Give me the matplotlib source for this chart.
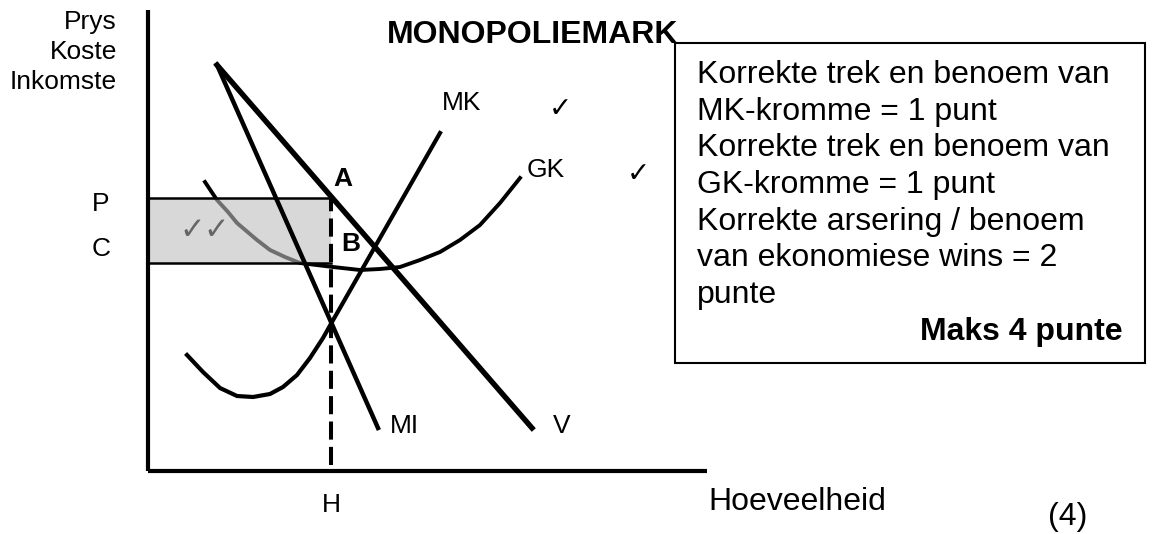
import matplotlib
matplotlib.use("Agg")
import matplotlib.pyplot as plt
from matplotlib.patches import Rectangle

plt.rcParams['font.family'] = ['Liberation Sans', 'DejaVu Sans']

# ---- data (economic units: quantity Q, price P) ----
V_q = [6.9, 38.4]
V_p = [40.6, 4.3]
MI_q = [6.9, 23.0]
MI_p = [40.6, 4.3]
MK_q = [3.9, 5.5, 7.2, 8.9, 10.5, 12.2, 13.5, 14.9, 16.2, 17.5, 18.4, 29.2]
MK_p = [11.6, 9.9, 8.3, 7.5, 7.4, 7.7, 8.4, 9.6, 11.3, 13.3, 14.9, 33.8]
GK_q = [5.7, 6.9, 8.0, 8.9, 10.9, 12.2, 13.7, 15.2, 18.5, 21.2, 23.2, 25.2,
        27.2, 29.2, 31.2, 33.2, 35.2, 37.2]
GK_p = [28.9, 27.1, 25.9, 24.8, 23.1, 22.1, 21.4, 20.8, 20.4, 20.1, 20.2, 20.4,
        21.1, 21.9, 23.1, 24.6, 26.8, 29.3]
H = 18.3
P_level = 27.3
C_level = 20.8
Q_axis_max = 55.9
P_axis_max = 46.1

box_lines = ["Korrekte trek en benoem van",
             "MK-kromme = 1 punt",
             "Korrekte trek en benoem van",
             "GK-kromme = 1 punt",
             "Korrekte arsering / benoem",
             "van ekonomiese wins = 2",
             "punte"]

W, Hpx = 1152, 534
fig = plt.figure(figsize=(W / 100, Hpx / 100), dpi=100)
ax = fig.add_axes([0, 0, 1, 1])
ax.set_xlim(-14.8, 100.4)
ax.set_ylim(-6.3, 47.1)
ax.axis('off')

def fx(px):
    return px / W

def fy(py):
    return 1 - py / Hpx

# axes
ax.plot([0, 0], [0, P_axis_max], color='black', lw=3.0, solid_capstyle='butt', zorder=3)
ax.plot([0, Q_axis_max], [0, 0], color='black', lw=3.0, solid_capstyle='butt', zorder=3)

# GK under the shaded rectangle
ax.plot(GK_q, GK_p, color='black', lw=2.8, zorder=1, solid_joinstyle='round')

# shaded profit rectangle
ax.add_patch(Rectangle((0, C_level), H, P_level - C_level, facecolor=(190/255,)*3,
                       alpha=0.59, edgecolor='none', zorder=2))
ax.plot([0, H], [P_level, P_level], color='black', lw=1.8, zorder=3)
ax.plot([0, H], [C_level, C_level], color='black', lw=1.8, zorder=3)
ax.plot([H, H], [0.6, P_level], color='black', lw=2.9, linestyle=(0, (4.5, 1.8)), zorder=3)

# grey check marks in the profit area
ax.text(4.4, 24.1, "\u2713", fontsize=22, color='#666666', ha='center', va='center',
        family=['DejaVu Sans'], zorder=3)
ax.text(6.8, 24.1, "\u2713", fontsize=22, color='#666666', ha='center', va='center',
        family=['DejaVu Sans'], zorder=3)

# curves
ax.plot(V_q, V_p, color='black', lw=3.9, zorder=3)
ax.plot(MI_q, MI_p, color='black', lw=3.2, zorder=3)
ax.plot(MK_q, MK_p, color='black', lw=3.0, zorder=3, solid_joinstyle='round')

# labels in chart
ax.text(-3.1, 44.9, "Prys", fontsize=19, ha='right', va='center')
ax.text(-3.1, 41.9, "Koste", fontsize=19, ha='right', va='center')
ax.text(-3.1, 38.9, "Inkomste", fontsize=19, ha='right', va='center')
ax.text(-4.7, 26.7, "P", fontsize=19, ha='center', va='center')
ax.text(-4.7, 22.2, "C", fontsize=19, ha='center', va='center')
ax.text(19.5, 29.2, "A", fontsize=19, fontweight='bold', ha='center', va='center')
ax.text(20.3, 22.7, "B", fontsize=19, fontweight='bold', ha='center', va='center')
ax.text(31.4, 36.1, "MK", fontsize=19, ha='center', va='baseline')
ax.text(39.8, 29.4, "GK", fontsize=19, ha='center', va='baseline')
ax.text(24.2, 3.8, "MI", fontsize=19, ha='left', va='baseline')
ax.text(40.5, 3.8, "V", fontsize=19, ha='left', va='baseline')
ax.text(H, -4.1, "H", fontsize=19, ha='center', va='baseline')
ax.text(41.2, 36.2, "\u2713", fontsize=20, ha='center', va='center', family=['DejaVu Sans'])
ax.text(49.0, 29.7, "\u2713", fontsize=20, ha='center', va='center', family=['DejaVu Sans'])

# title
fig.text(fx(387), fy(43), "MONOPOLIEMARK", fontsize=23, fontweight='bold', ha='left', va='baseline')

# box
fig.patches.append(Rectangle((fx(675), fy(363)), fx(1145) - fx(675), fy(43) - fy(363),
                             transform=fig.transFigure, facecolor='white', edgecolor='black',
                             lw=1.5, zorder=5))
base = 83
for i, line in enumerate(box_lines):
    fig.text(fx(697), fy(base + i * 36.7), line, fontsize=23, ha='left', va='baseline', zorder=6)
fig.text(fx(1123), fy(340), "Maks 4 punte", fontsize=23, fontweight='bold', ha='right',
         va='baseline', zorder=6)

fig.text(fx(708), fy(510), "Hoeveelheid", fontsize=23, ha='left', va='baseline')
fig.text(fx(1068), fy(525), "(4)", fontsize=23, ha='center', va='baseline')

fig.savefig("out.png", dpi=100, facecolor='white')
